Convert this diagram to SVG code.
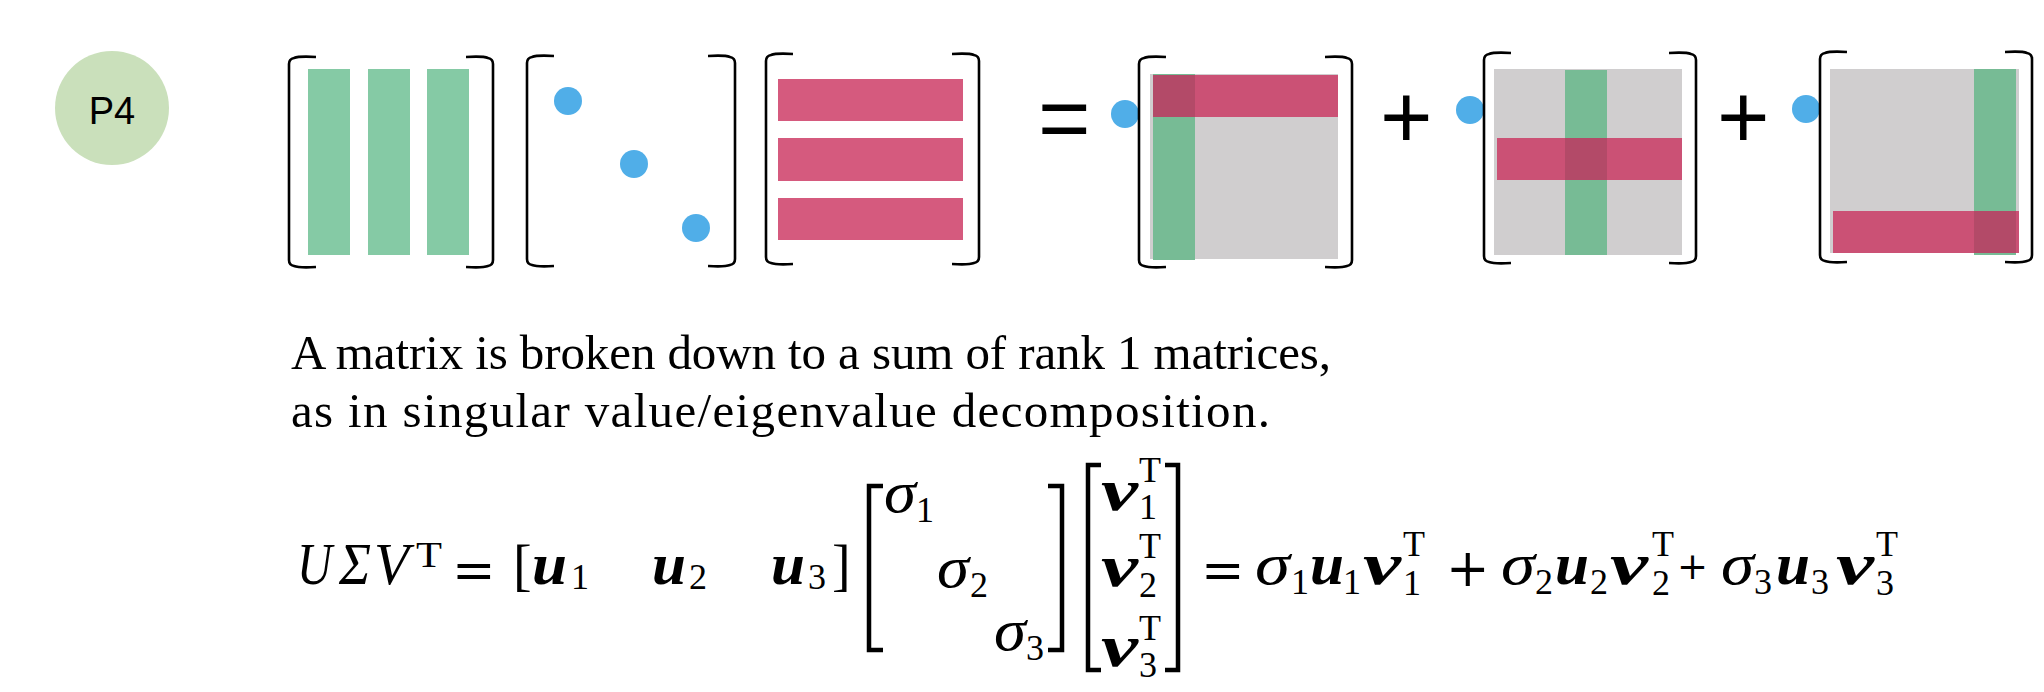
<svg xmlns="http://www.w3.org/2000/svg" width="2044" height="692" viewBox="0 0 2044 692">
<style>
.br{fill:none;stroke:#000;stroke-width:2.6;stroke-linejoin:round}
.bb{fill:none;stroke:#000;stroke-width:4.5}
.gr{fill:#85CAA5}
.g2{fill:#77BB95}
.pk{fill:#D55A7E}
.p2{fill:#CB5175}
.ov{fill:#B34A68}
.gy{fill:#D0CECF}
.dot{fill:#50AEE8}
.op{font-family:"Liberation Sans",Arial,sans-serif;font-size:90px;fill:#000}
.body{font-family:"Liberation Serif","Times New Roman",serif;font-size:49px;fill:#000}
.mi{font-family:"Liberation Serif","Times New Roman",serif;font-style:italic;font-size:60px;fill:#000}
.mb{font-family:"Liberation Serif","Times New Roman",serif;font-style:italic;font-weight:bold;font-size:60px;fill:#000}
.mo{font-family:"DejaVu Serif","Liberation Serif",serif;font-size:52px;fill:#000}
.mr{font-family:"Liberation Serif","Times New Roman",serif;font-size:56px;fill:#000}
.sc{font-family:"Liberation Serif","Times New Roman",serif;font-size:36px;fill:#000}
</style>
<defs>
<path id="lb" d="M27,0 Q10,-1 5,1 Q0,2 0,7 L0,203 Q0,208 5,209 Q10,211 27,210"/>
<path id="rb" d="M0,0 Q17,-1 22,1 Q27,2 27,7 L27,203 Q27,208 22,209 Q17,211 0,210"/>
</defs>
<rect width="2044" height="692" fill="#fff"/>

<g id="badge">
<circle cx="112" cy="108" r="57" fill="#CAE0BB"/>
<text x="112" y="124" text-anchor="middle" style="font-family:'Liberation Sans',Arial,sans-serif;font-size:38px">P4</text>
</g>

<g id="matrix-U">
<rect class="gr" x="308" y="69" width="42" height="186"/>
<rect class="gr" x="368" y="69" width="42" height="186"/>
<rect class="gr" x="427" y="69" width="42" height="186"/>
<use href="#lb" class="br" transform="translate(289,57)"/>
<use href="#rb" class="br" transform="translate(466,57)"/>
</g>

<g id="matrix-Sigma">
<circle class="dot" cx="568" cy="101" r="14"/>
<circle class="dot" cx="634" cy="164" r="14"/>
<circle class="dot" cx="696" cy="228" r="14"/>
<use href="#lb" class="br" transform="translate(527,56)"/>
<use href="#rb" class="br" transform="translate(708,56)"/>
</g>

<g id="matrix-VT">
<rect class="pk" x="778" y="79" width="185" height="42"/>
<rect class="pk" x="778" y="138" width="185" height="43"/>
<rect class="pk" x="778" y="198" width="185" height="42"/>
<use href="#lb" class="br" transform="translate(766,54)"/>
<use href="#rb" class="br" transform="translate(952,54)"/>
</g>

<g id="op-equals"><text class="op" x="1038" y="149">=</text></g>

<g id="rank1-a">
<circle class="dot" cx="1125" cy="114" r="14"/>
<rect class="gy" x="1150" y="74" width="188" height="185"/>
<rect class="g2" x="1153" y="74" width="42" height="186"/>
<rect class="p2" x="1153" y="75" width="185" height="42"/>
<rect class="ov" x="1153" y="75" width="42" height="42"/>
<use href="#lb" class="br" transform="translate(1139,57)"/>
<use href="#rb" class="br" transform="translate(1325,57)"/>
</g>

<g id="op-plus-1"><text class="op" x="1380" y="148">+</text></g>

<g id="rank1-b">
<circle class="dot" cx="1470" cy="110" r="14"/>
<rect class="gy" x="1494" y="69" width="188" height="186"/>
<rect class="g2" x="1565" y="70" width="42" height="185"/>
<rect class="p2" x="1497" y="138" width="185" height="42"/>
<rect class="ov" x="1565" y="138" width="42" height="42"/>
<use href="#lb" class="br" transform="translate(1484,53)"/>
<use href="#rb" class="br" transform="translate(1669,53)"/>
</g>

<g id="op-plus-2"><text class="op" x="1717" y="148">+</text></g>

<g id="rank1-c">
<circle class="dot" cx="1806" cy="109" r="14"/>
<rect class="gy" x="1830" y="69" width="189" height="184"/>
<rect class="g2" x="1974" y="69" width="42" height="186"/>
<rect class="p2" x="1833" y="211" width="186" height="42"/>
<rect class="ov" x="1974" y="211" width="42" height="42"/>
<use href="#lb" class="br" transform="translate(1820,52)"/>
<use href="#rb" class="br" transform="translate(2005,52)"/>
</g>

<g id="caption">
<text class="body" x="291" y="369" textLength="1040">A matrix is broken down to a sum of rank 1 matrices,</text>
<text class="body" x="291" y="427" textLength="979">as in singular value/eigenvalue decomposition.</text>
</g>

<g id="equation">
<text class="mi" x="297" y="584" textLength="35" lengthAdjust="spacingAndGlyphs">U</text>
<text class="mi" x="339" y="584" textLength="32" lengthAdjust="spacingAndGlyphs">Σ</text>
<text class="mi" x="374" y="584" textLength="35" lengthAdjust="spacingAndGlyphs">V</text>
<text class="sc" x="416" y="567" textLength="26" lengthAdjust="spacingAndGlyphs">T</text>
<text class="mo" x="452" y="588">=</text>
<text class="mr" x="513" y="584">[</text>
<text class="mb" x="532" y="584" textLength="35" lengthAdjust="spacingAndGlyphs">u</text>
<text class="sc" x="571" y="589">1</text>
<text class="mb" x="652" y="584" textLength="34" lengthAdjust="spacingAndGlyphs">u</text>
<text class="sc" x="689" y="589">2</text>
<text class="mb" x="771" y="584" textLength="34" lengthAdjust="spacingAndGlyphs">u</text>
<text class="sc" x="808" y="589">3</text>
<text class="mr" x="832" y="584">]</text>

<path class="bb" d="M883,486 H869 V650 H883"/>
<text class="mi" x="884" y="512" textLength="32" lengthAdjust="spacingAndGlyphs">σ</text>
<text class="sc" x="916" y="522">1</text>
<text class="mi" x="937" y="587" textLength="32" lengthAdjust="spacingAndGlyphs">σ</text>
<text class="sc" x="970" y="597">2</text>
<text class="mi" x="994" y="650" textLength="32" lengthAdjust="spacingAndGlyphs">σ</text>
<text class="sc" x="1026" y="660">3</text>
<path class="bb" d="M1048,486 H1062 V650 H1048"/>

<path class="bb" d="M1101,465 H1088 V670 H1101"/>
<text class="mb" x="1101" y="510" textLength="37" lengthAdjust="spacingAndGlyphs">v</text>
<text class="sc" x="1139" y="482">T</text>
<text class="sc" x="1139" y="519">1</text>
<text class="mb" x="1101" y="586" textLength="37" lengthAdjust="spacingAndGlyphs">v</text>
<text class="sc" x="1139" y="558">T</text>
<text class="sc" x="1139" y="597">2</text>
<text class="mb" x="1101" y="666" textLength="37" lengthAdjust="spacingAndGlyphs">v</text>
<text class="sc" x="1139" y="640">T</text>
<text class="sc" x="1139" y="677">3</text>
<path class="bb" d="M1165,465 H1178 V670 H1165"/>

<text class="mo" x="1201" y="588">=</text>
<text class="mi" x="1255" y="584" textLength="35" lengthAdjust="spacingAndGlyphs">σ</text>
<text class="sc" x="1291" y="594">1</text>
<text class="mb" x="1310" y="584" textLength="34" lengthAdjust="spacingAndGlyphs">u</text>
<text class="sc" x="1343" y="594">1</text>
<text class="mb" x="1363" y="584" textLength="38" lengthAdjust="spacingAndGlyphs">v</text>
<text class="sc" x="1403" y="556">T</text>
<text class="sc" x="1403" y="595">1</text>
<text class="mo" x="1446" y="586">+</text>
<text class="mi" x="1501" y="584" textLength="34" lengthAdjust="spacingAndGlyphs">σ</text>
<text class="sc" x="1535" y="594">2</text>
<text class="mb" x="1555" y="584" textLength="34" lengthAdjust="spacingAndGlyphs">u</text>
<text class="sc" x="1590" y="594">2</text>
<text class="mb" x="1610" y="584" textLength="38" lengthAdjust="spacingAndGlyphs">v</text>
<text class="sc" x="1652" y="556">T</text>
<text class="sc" x="1652" y="595">2</text>
<text class="mo" x="1677" y="579" style="font-size:37px">+</text>
<text class="mi" x="1721" y="584" textLength="33" lengthAdjust="spacingAndGlyphs">σ</text>
<text class="sc" x="1754" y="594">3</text>
<text class="mb" x="1776" y="584" textLength="34" lengthAdjust="spacingAndGlyphs">u</text>
<text class="sc" x="1811" y="594">3</text>
<text class="mb" x="1836" y="584" textLength="38" lengthAdjust="spacingAndGlyphs">v</text>
<text class="sc" x="1876" y="556">T</text>
<text class="sc" x="1876" y="595">3</text>
</g>

<g id="connectors"/>
</svg>
